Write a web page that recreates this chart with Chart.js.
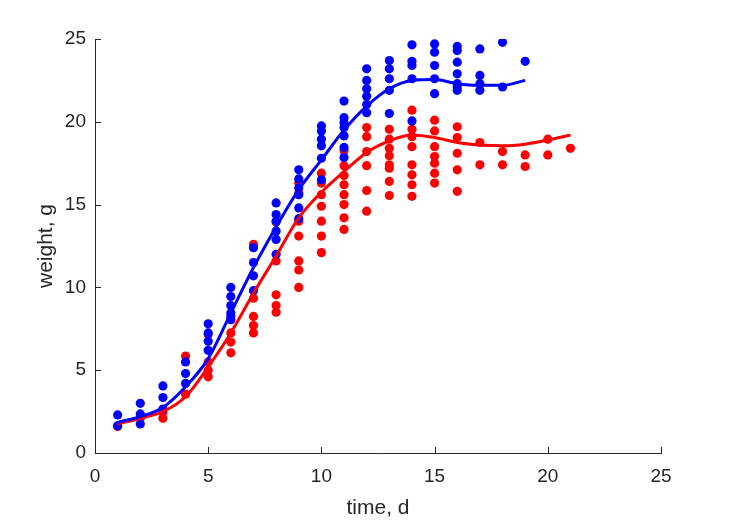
<!DOCTYPE html>
<html>
<head>
<meta charset="utf-8">
<script src="https://cdn.jsdelivr.net/npm/chart.js@4/dist/chart.umd.min.js"></script>
<style>
  html, body { margin: 0; padding: 0; background: #fff; }
  #wrap { width: 729px; height: 521px; }
</style>
</head>
<body>
<div id="wrap"><canvas id="growth_chart" width="729" height="521"></canvas></div>
<script>
// measured weights per day (g)
var redDays = [1, 2, 3, 4, 5, 6, 7, 8, 9, 10, 11, 12, 13, 14, 15, 16, 17, 18, 19, 20, 21];
var redWeights = [
    [1.6],
    [2.1],
    [2.45, 2.1],
    [5.85, 3.55],
    [7.15, 5.5, 5.0, 4.6],
    [7.25, 6.7, 6.05],
    [12.6, 9.35, 8.25, 7.7, 7.25],
    [13.95, 11.6, 9.55, 8.9, 8.5],
    [16.3, 15.7, 14.0, 13.1, 11.6, 11.05, 10.0],
    [16.9, 16.3, 15.6, 14.9, 14.0, 13.1, 12.1],
    [18.25, 17.35, 16.75, 16.2, 15.6, 15.0, 14.2, 13.5],
    [19.65, 19.1, 18.2, 17.35, 15.85, 14.6],
    [19.55, 18.95, 18.4, 17.95, 17.4, 17.2, 16.4, 15.55],
    [20.7, 19.55, 19.1, 18.5, 17.4, 16.8, 16.2, 15.5],
    [20.1, 19.45, 18.5, 17.9, 17.5, 16.9, 16.3],
    [19.7, 19.05, 18.1, 17.1, 15.8],
    [18.75, 17.4],
    [18.2, 17.4],
    [18.0, 17.3],
    [18.95, 18.0],
    [18.4]
];
var blueDays = [1, 2, 3, 4, 5, 6, 7, 8, 9, 10, 11, 12, 13, 14, 15, 16, 17, 18, 19];
var blueWeights = [
    [2.3, 1.65],
    [3.0, 2.36, 1.75],
    [4.05, 3.35, 2.65],
    [5.5, 4.8, 4.2],
    [7.8, 7.25, 6.75, 6.2],
    [10.0, 9.45, 8.9, 8.45, 8.25, 8.05],
    [12.4, 11.5, 10.7, 9.8],
    [15.1, 14.4, 14.0, 13.4, 12.9, 12.0],
    [17.1, 16.55, 16.0, 15.6, 14.8, 14.15],
    [19.75, 19.45, 18.95, 18.55, 17.8, 16.5],
    [21.25, 20.25, 19.95, 19.65, 19.15, 18.45, 17.85],
    [23.2, 22.5, 22.0, 21.55, 21.05, 20.55],
    [23.7, 23.2, 22.6, 21.9, 20.5],
    [24.65, 23.65, 23.4, 22.6, 20.05],
    [24.7, 24.2, 23.4, 22.6, 21.7],
    [24.55, 24.3, 23.6, 22.9, 22.3, 22.1, 21.9],
    [24.4, 22.8, 22.3, 21.9],
    [24.8, 22.1],
    [23.65]
];

// fitted curves
var redFit = [1.75, 2.1, 2.5, 3.4, 5.2, 7.25, 9.65, 11.9, 14.2, 15.75, 17.0, 18.15, 18.85, 19.2, 19.05, 18.75, 18.6, 18.55, 18.65, 18.9, 19.2];
var blueFit = [1.85, 2.2, 2.75, 4.0, 5.7, 8.45, 11.2, 13.65, 15.9, 17.7, 19.5, 20.95, 22.0, 22.5, 22.55, 22.3, 22.2, 22.2, 22.5];

var xTicks = [0, 5, 10, 15, 20, 25];
var yTicks = [0, 5, 10, 15, 20, 25];

function points(days, weights) {
    var out = [];
    days.forEach(function(d, i) {
        weights[i].forEach(function(w) { out.push({x: d, y: w}); });
    });
    return out;
}
function curve(days, vals) {
    return days.map(function(d, i) { return {x: d, y: vals[i]}; });
}

var axisColor = '#262626';
var fontFam = '"Liberation Sans", Arial, Helvetica, sans-serif';

// matlab style inward tick marks
var inwardTicks = {
    id: 'inwardTicks',
    beforeDatasetsDraw: function(chart) {
        var ctx = chart.ctx, xs = chart.scales.x, ys = chart.scales.y;
        var area = chart.chartArea;
        ctx.save();
        ctx.strokeStyle = axisColor;
        ctx.lineWidth = 1;
        ctx.beginPath();
        xTicks.forEach(function(t) {
            var px = Math.round(xs.getPixelForValue(t)) + 0.5;
            ctx.moveTo(px, area.bottom);
            ctx.lineTo(px, area.bottom - 6);
        });
        yTicks.forEach(function(t) {
            var py = Math.round(ys.getPixelForValue(t)) + 0.5;
            ctx.moveTo(area.left, py);
            ctx.lineTo(area.left + 6, py);
        });
        ctx.stroke();
        ctx.restore();
    }
};

var config = {
    type: 'scatter',
    data: {
        datasets: [{
            type: 'line',
            label: 'blue fit',
            data: curve(blueDays, blueFit),
            borderColor: '#0000ff',
            borderWidth: 3,
            pointRadius: 0,
            fill: false,
            cubicInterpolationMode: 'monotone',
            order: 0
        }, {
            type: 'line',
            label: 'red fit',
            data: curve(redDays, redFit),
            borderColor: '#ff0000',
            borderWidth: 3,
            pointRadius: 0,
            fill: false,
            cubicInterpolationMode: 'monotone',
            order: 1
        }, {
            label: 'blue',
            data: points(blueDays, blueWeights),
            backgroundColor: '#0000ff',
            borderWidth: 0,
            pointRadius: 4.6,
            order: 2
        }, {
            label: 'red',
            data: points(redDays, redWeights),
            backgroundColor: '#ff0000',
            borderWidth: 0,
            pointRadius: 4.6,
            order: 3
        }]
    },
    options: {
        responsive: false,
        animation: false,
        events: [],
        layout: { padding: { left: 0, top: 39, right: 68, bottom: 0 } },
        plugins: { legend: { display: false }, tooltip: { enabled: false } },
        scales: {
            x: {
                type: 'linear',
                min: 0, max: 25,
                afterBuildTicks: function(s) { s.ticks = xTicks.map(function(v) { return {value: v}; }); },
                afterFit: function(s) { s.height = 68; },
                grid: { display: false, drawTicks: false },
                border: { display: true, color: axisColor, width: 1 },
                ticks: { color: axisColor, font: { family: fontFam, size: 19 }, padding: 12, maxRotation: 0 },
                title: { display: true, text: 'time, d', color: axisColor, font: { family: fontFam, size: 21 }, padding: { top: 2, bottom: 0 } }
            },
            y: {
                type: 'linear',
                min: 0, max: 25,
                afterBuildTicks: function(s) { s.ticks = yTicks.map(function(v) { return {value: v}; }); },
                afterFit: function(s) { s.width = 95; },
                grid: { display: false, drawTicks: false },
                border: { display: true, color: axisColor, width: 1 },
                ticks: { color: axisColor, font: { family: fontFam, size: 19 }, padding: 9 },
                title: { display: true, text: 'weight, g', color: axisColor, font: { family: fontFam, size: 21 }, padding: { top: 34, bottom: 0 } }
            }
        }
    },
    plugins: [inwardTicks]
};

new Chart(document.getElementById('growth_chart').getContext('2d'), config);
</script>
</body>
</html>
